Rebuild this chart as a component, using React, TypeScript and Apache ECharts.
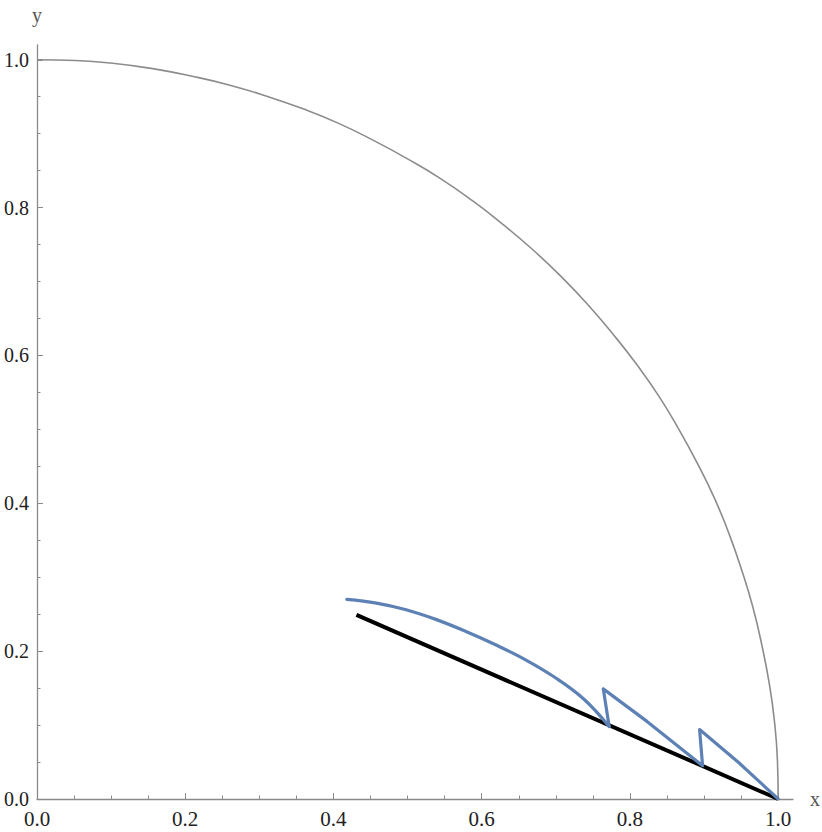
import React, { useEffect, useRef } from "react";
import * as echarts from "echarts";

// Quarter of the unit circle (grey), read every 3 degrees
const circleX = [1.0, 0.999, 0.995, 0.988, 0.978, 0.966, 0.951, 0.934, 0.914, 0.891, 0.866, 0.839, 0.809, 0.777, 0.743, 0.707, 0.669, 0.629, 0.588, 0.545, 0.5, 0.454, 0.407, 0.358, 0.309, 0.259, 0.208, 0.156, 0.105, 0.052, 0.0];
const circleY = [0.0, 0.052, 0.105, 0.156, 0.208, 0.259, 0.309, 0.358, 0.407, 0.454, 0.5, 0.545, 0.588, 0.629, 0.669, 0.707, 0.743, 0.777, 0.809, 0.839, 0.866, 0.891, 0.914, 0.934, 0.951, 0.966, 0.978, 0.988, 0.995, 0.999, 1.0];

// Black straight segment
const chordX = [0.431, 1.0];
const chordY = [0.249, 0.0];

// Blue curve: first arc, then the two saw teeth
const arcX = [0.418, 0.458, 0.498, 0.538, 0.578, 0.618, 0.658, 0.698, 0.738, 0.772];
const arcY = [0.27, 0.265, 0.256, 0.243, 0.227, 0.209, 0.189, 0.165, 0.135, 0.098];
const teethX = [0.772, 0.764, 0.823, 0.898, 0.894, 0.947, 1.0];
const teethY = [0.098, 0.149, 0.105, 0.045, 0.094, 0.049, 0.0];

const majorTicks = [0, 0.2, 0.4, 0.6, 0.8, 1.0];
const minorTicks = [0.05, 0.1, 0.15, 0.25, 0.3, 0.35, 0.45, 0.5, 0.55, 0.65, 0.7, 0.75, 0.85, 0.9, 0.95];

const AXIS_MAX = 1.02;
const FONT = "'Liberation Serif', 'DejaVu Serif', serif";

const zip = (xs: number[], ys: number[]) => xs.map((x, i) => [x, ys[i]]);

export default function App() {
  const ref = useRef<HTMLDivElement>(null);
  useEffect(() => {
    if (!ref.current) return;
    const chart = echarts.init(ref.current, undefined, { renderer: "svg" });
    const axisColor = "#8a8a8a";
    const mainAxis = (name: string, isX: boolean) => ({
      type: "value",
      min: 0,
      max: AXIS_MAX,
      interval: 0.2,
      position: isX ? "bottom" : "left",
      name,
      nameLocation: "end",
      nameGap: isX ? 17 : 20,
      nameTextStyle: { color: "#555", fontFamily: FONT, fontSize: 20 },
      axisLine: { show: true, lineStyle: { color: axisColor, width: 1.3 } },
      axisTick: { show: true, inside: true, length: 6, customValues: majorTicks, lineStyle: { color: axisColor } },
      axisLabel: {
        show: true,
        customValues: majorTicks,
        margin: isX ? 9 : 8,
        formatter: (v: number) => v.toFixed(1),
        color: "#222",
        fontFamily: FONT,
        fontSize: isX ? 21 : 20,
      },
      splitLine: { show: false },
    });
    const minorAxis = (isX: boolean) => ({
      type: "value",
      min: 0,
      max: AXIS_MAX,
      interval: 0.2,
      position: isX ? "bottom" : "left",
      axisLine: { show: false },
      axisTick: { show: true, inside: true, length: 3.5, customValues: minorTicks, lineStyle: { color: axisColor } },
      axisLabel: { show: false },
      splitLine: { show: false },
    });
    chart.setOption({
      animation: false,
      backgroundColor: "#fff",
      textStyle: { fontFamily: FONT },
      grid: { left: 37, right: 29, top: 45, bottom: 33, containLabel: false, outerBoundsMode: "none" },
      xAxis: [mainAxis("x", true), minorAxis(true)],
      yAxis: [mainAxis("y", false), minorAxis(false)],
      series: [
        {
          type: "line",
          data: zip(circleX, circleY),
          smooth: true,
          symbol: "none",
          lineStyle: { color: "#8c8c8c", width: 1.6 },
          silent: true,
        },
        {
          type: "line",
          data: zip(chordX, chordY),
          symbol: "none",
          lineStyle: { color: "#000", width: 4 },
          silent: true,
        },
        {
          type: "line",
          data: zip(arcX, arcY),
          smooth: 0.4,
          symbol: "none",
          lineStyle: { color: "#5e81b5", width: 3.2, join: "round", cap: "round" },
          silent: true,
        },
        {
          type: "line",
          data: zip(teethX, teethY),
          symbol: "none",
          lineStyle: { color: "#5e81b5", width: 3.2, join: "round", cap: "round" },
          silent: true,
        },
      ],
    });
    return () => chart.dispose();
  }, []);
  return (
    <div
      ref={ref}
      style={{ position: "absolute", left: 0, top: 0, width: 822, height: 832 }}
    />
  );
}
